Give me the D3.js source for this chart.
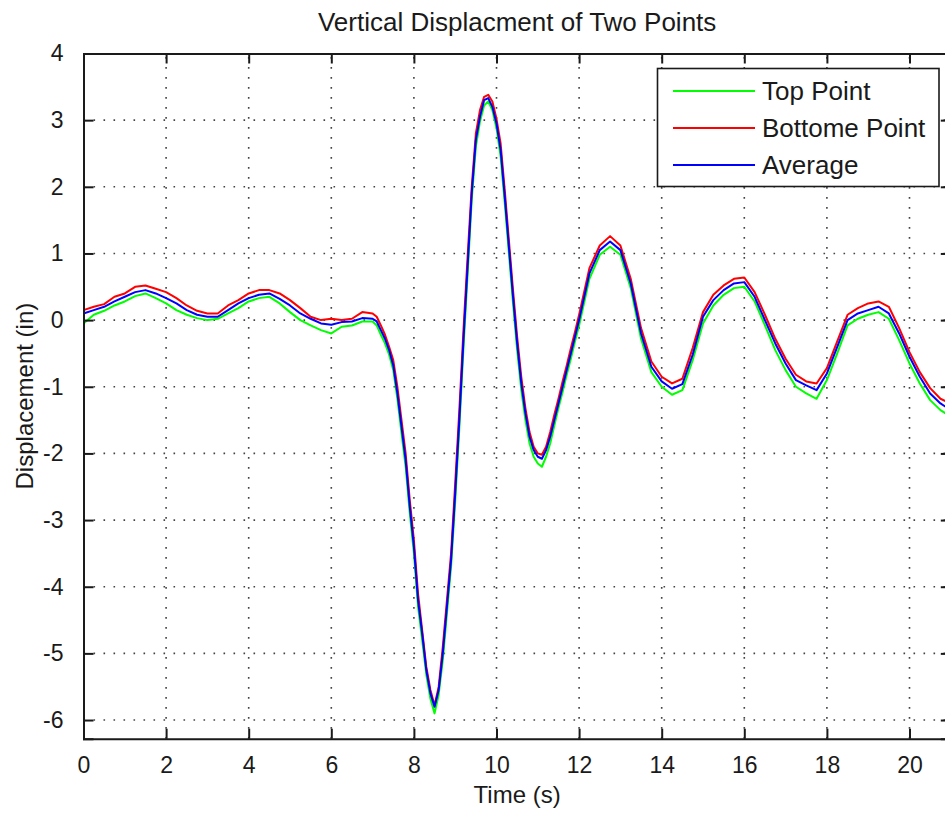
<!DOCTYPE html>
<html lang="en">
<head>
<meta charset="UTF-8">
<title>Vertical Displacment of Two Points</title>
<style>
    body { margin: 0; background: #fff; }
    svg { display: block; }
    text { font-family: Arial, "Liberation Sans", sans-serif; fill: #1a1a1a; }
</style>
</head>
<body>
<svg id="chart"></svg>
<script src="https://d3js.org/d3.v7.min.js"></script>
<script>
// time samples (s)
const times = [
    0, 0.25, 0.5, 0.75, 1, 1.25, 1.5, 1.75, 2, 2.25, 2.5, 2.75, 3, 3.25,
    3.5, 3.75, 4, 4.25, 4.5, 4.75, 5, 5.25, 5.5, 5.75, 6, 6.25, 6.5, 6.75,
    7, 7.1, 7.2, 7.3, 7.4, 7.5, 7.6, 7.7, 7.8, 7.9,
    8, 8.1, 8.2, 8.3, 8.4, 8.5, 8.6, 8.7, 8.8, 8.9,
    9, 9.1, 9.2, 9.3, 9.4, 9.5, 9.6, 9.7, 9.8, 9.9,
    10, 10.1, 10.2, 10.3, 10.4, 10.5, 10.6, 10.7, 10.8, 10.9,
    11, 11.1, 11.2, 11.3, 11.4, 11.5, 11.6, 11.7, 11.8, 11.9,
    12, 12.25, 12.5, 12.75, 13, 13.25, 13.5, 13.75, 14, 14.25, 14.5, 14.75,
    15, 15.25, 15.5, 15.75, 16, 16.25, 16.5, 16.75, 17, 17.25, 17.5, 17.75,
    18, 18.25, 18.5, 18.75, 19, 19.25, 19.5, 19.75, 20, 20.25, 20.5, 20.75, 21
];

// displacement (in)
const topPoint = [
    -0.05, 0.08, 0.14, 0.22, 0.28, 0.36, 0.40, 0.33, 0.25, 0.15, 0.08, 0.03, 0.00, 0.02,
    0.10, 0.18, 0.28, 0.33, 0.35, 0.25, 0.12, 0.00, -0.08, -0.15, -0.20, -0.10, -0.08, -0.02,
    -0.02, -0.08, -0.22, -0.35, -0.52, -0.75, -1.18, -1.70, -2.20, -2.90,
    -3.50, -4.30, -4.80, -5.32, -5.68, -5.90, -5.62, -5.10, -4.40, -3.70,
    -2.72, -1.62, -0.42, 0.68, 1.80, 2.60, 2.98, 3.22, 3.28, 3.15,
    2.88, 2.45, 1.75, 1.00, 0.25, -0.45, -1.05, -1.50, -1.85, -2.05,
    -2.15, -2.20, -2.05, -1.85, -1.58, -1.32, -1.08, -0.82, -0.58, -0.32,
    -0.08, 0.62, 0.98, 1.10, 0.98, 0.48, -0.28, -0.78, -1.00, -1.12, -1.05, -0.60,
    -0.05, 0.22, 0.38, 0.48, 0.50, 0.28, -0.08, -0.45, -0.75, -1.00, -1.10, -1.18,
    -0.90, -0.50, -0.08, 0.02, 0.08, 0.12, 0.02, -0.30, -0.65, -0.95, -1.20, -1.35, -1.45
];

const bottomPoint = [
    0.15, 0.20, 0.24, 0.35, 0.40, 0.50, 0.52, 0.47, 0.42, 0.33, 0.22, 0.14, 0.10, 0.10,
    0.22, 0.30, 0.40, 0.45, 0.45, 0.40, 0.30, 0.18, 0.05, 0.00, 0.02, 0.00, 0.02, 0.12,
    0.10, 0.05, -0.08, -0.22, -0.40, -0.60, -1.00, -1.50, -2.00, -2.70,
    -3.30, -4.10, -4.65, -5.20, -5.55, -5.78, -5.50, -4.90, -4.20, -3.50,
    -2.45, -1.35, -0.15, 0.95, 2.00, 2.80, 3.15, 3.35, 3.38, 3.28,
    3.02, 2.65, 1.95, 1.20, 0.45, -0.25, -0.85, -1.32, -1.68, -1.90,
    -2.00, -2.02, -1.90, -1.68, -1.42, -1.18, -0.92, -0.68, -0.42, -0.18,
    0.08, 0.78, 1.12, 1.26, 1.12, 0.62, -0.12, -0.62, -0.85, -0.95, -0.88, -0.42,
    0.12, 0.38, 0.52, 0.62, 0.64, 0.42, 0.08, -0.28, -0.58, -0.82, -0.92, -0.95,
    -0.72, -0.32, 0.08, 0.18, 0.25, 0.28, 0.20, -0.12, -0.48, -0.78, -1.02, -1.18, -1.25
];

const average = [
    0.10, 0.15, 0.20, 0.28, 0.35, 0.42, 0.45, 0.40, 0.33, 0.25, 0.15, 0.08, 0.05, 0.05,
    0.15, 0.25, 0.33, 0.38, 0.40, 0.32, 0.22, 0.10, 0.02, -0.05, -0.07, -0.03, -0.02, 0.03,
    0.02, -0.02, -0.15, -0.28, -0.45, -0.68, -1.10, -1.60, -2.10, -2.80,
    -3.40, -4.20, -4.70, -5.25, -5.60, -5.80, -5.55, -5.00, -4.30, -3.60,
    -2.60, -1.50, -0.30, 0.80, 1.90, 2.70, 3.05, 3.30, 3.33, 3.20,
    2.95, 2.55, 1.85, 1.10, 0.35, -0.35, -0.95, -1.40, -1.75, -1.95,
    -2.05, -2.08, -1.95, -1.75, -1.50, -1.25, -1.00, -0.75, -0.50, -0.25,
    0.00, 0.70, 1.05, 1.18, 1.05, 0.55, -0.20, -0.70, -0.92, -1.03, -0.96, -0.52,
    0.05, 0.30, 0.45, 0.55, 0.57, 0.35, 0.00, -0.35, -0.65, -0.90, -0.98, -1.05,
    -0.80, -0.40, 0.00, 0.10, 0.15, 0.20, 0.10, -0.20, -0.55, -0.85, -1.10, -1.25, -1.35
];

const seriesNames = ['Top Point', 'Bottome Point', 'Average'];
const seriesColors = ['#00ff00', '#ff0000', '#0000ff'];
const xTicks = [0, 2, 4, 6, 8, 10, 12, 14, 16, 18, 20];
const yTicks = [-6, -5, -4, -3, -2, -1, 0, 1, 2, 3, 4];

const width = 945, height = 813;
const plotLeft = 83.5, plotTop = 53.5, plotRight = 950.8, plotBottom = 738.7;

const svg = d3.select('#chart').attr('width', width).attr('height', height);

const x = d3.scaleLinear().domain([0, 21]).range([plotLeft, plotRight]);
const y = d3.scaleLinear().domain([-6.28, 4]).range([plotBottom, plotTop]);

svg.append('defs').append('clipPath').attr('id', 'plotClip')
    .append('rect')
    .attr('x', plotLeft).attr('y', plotTop)
    .attr('width', plotRight - plotLeft).attr('height', plotBottom - plotTop);

// dotted grid
const grid = svg.append('g').attr('stroke', '#444').attr('stroke-width', 1.6)
    .attr('stroke-dasharray', '1.6,8.4');
grid.selectAll('.vg').data(xTicks.filter(d => d > 0)).enter().append('line')
    .attr('x1', d => x(d)).attr('x2', d => x(d))
    .attr('y1', plotBottom).attr('y2', plotTop);
grid.selectAll('.hg').data(yTicks.filter(d => d > -6.28 && d < 4)).enter().append('line')
    .attr('x1', plotLeft).attr('x2', plotRight)
    .attr('y1', d => y(d)).attr('y2', d => y(d));

// data lines
const data = [topPoint, bottomPoint, average];
const line = d3.line()
    .x((d, i) => x(times[i]))
    .y(d => y(d));

svg.append('g').attr('clip-path', 'url(#plotClip)')
    .selectAll('path').data(data).enter().append('path')
    .attr('d', d => line(d))
    .attr('fill', 'none')
    .attr('stroke', (d, i) => seriesColors[i])
    .attr('stroke-width', 2)
    .attr('stroke-linejoin', 'round');

// axes (ticks inside, box all round)
const tickLen = 10;
const fmt = d => String(d);
const axisBottom = d3.axisBottom(x).tickValues(xTicks).tickSize(-tickLen).tickPadding(tickLen + 8)
    .tickFormat(fmt);
const axisTop = d3.axisTop(x).tickValues(xTicks).tickSize(-tickLen).tickFormat('');
const axisLeft = d3.axisLeft(y).tickValues(yTicks).tickSize(-tickLen).tickPadding(tickLen + 10)
    .tickFormat(fmt);
const axisRight = d3.axisRight(y).tickValues(yTicks).tickSize(-tickLen).tickFormat('');

function styleAxis(g) {
    g.select('.domain').attr('stroke', '#1a1a1a').attr('stroke-width', 2);
    g.selectAll('.tick line').attr('stroke', '#1a1a1a').attr('stroke-width', 2);
    g.selectAll('.tick text').attr('font-size', 23).attr('fill', '#1a1a1a')
        .attr('font-family', 'Arial, "Liberation Sans", sans-serif');
}

svg.append('g').attr('transform', `translate(0,${plotBottom})`).call(axisBottom).call(styleAxis)
    .selectAll('.tick text').attr('dy', '0.71em');
svg.append('g').attr('transform', `translate(0,${plotTop})`).call(axisTop).call(styleAxis);
svg.append('g').attr('transform', `translate(${plotLeft},0)`).call(axisLeft).call(styleAxis);
svg.append('g').attr('transform', `translate(${plotRight},0)`).call(axisRight).call(styleAxis);

// title and labels
svg.append('text')
    .attr('x', (plotLeft + plotRight) / 2).attr('y', 31)
    .attr('text-anchor', 'middle').attr('font-size', 26)
    .text('Vertical Displacment of Two Points');

svg.append('text')
    .attr('x', (plotLeft + plotRight) / 2).attr('y', 803)
    .attr('text-anchor', 'middle').attr('font-size', 24)
    .text('Time (s)');

svg.append('text')
    .attr('transform', `translate(33,${(plotTop + plotBottom) / 2}) rotate(-90)`)
    .attr('text-anchor', 'middle').attr('font-size', 24)
    .text('Displacement (in)');

// legend
const legend = svg.append('g');
legend.append('rect')
    .attr('x', 657.5).attr('y', 68.5).attr('width', 281.5).attr('height', 118)
    .attr('fill', '#fff').attr('stroke', '#1a1a1a').attr('stroke-width', 1.6);

const rowY = d3.scalePoint().domain(seriesNames).range([91, 165]);
const items = legend.selectAll('.item').data(seriesNames).enter().append('g');
items.append('line')
    .attr('x1', 673).attr('x2', 755)
    .attr('y1', d => rowY(d)).attr('y2', d => rowY(d))
    .attr('stroke', (d, i) => seriesColors[i]).attr('stroke-width', 2);
items.append('text')
    .attr('x', 762).attr('y', d => rowY(d))
    .attr('dy', '0.36em').attr('font-size', 26)
    .text(d => d);
</script>
</body>
</html>
